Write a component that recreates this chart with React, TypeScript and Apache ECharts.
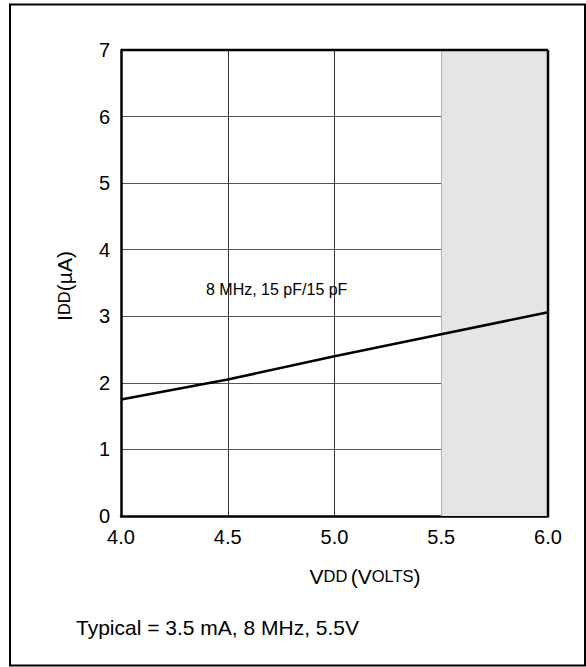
import React, { useEffect, useRef } from "react";
import * as echarts from "echarts";

const vdd = [4.0, 4.5, 5.0, 5.5, 6.0];
const idd = [1.75, 2.05, 2.4, 2.73, 3.06];
const shadeRange = [5.5, 6.0];
const curveLabel = "8 MHz, 15 pF/15 pF";
const footnote = "Typical = 3.5 mA, 8 MHz, 5.5V";

export default function App() {
  const ref = useRef<HTMLDivElement>(null);
  useEffect(() => {
    const chart = echarts.init(ref.current!, null, { renderer: "svg" });
    const font = "'Liberation Sans', Arial, sans-serif";
    chart.setOption({
      animation: false,
      backgroundColor: "#fff",
      textStyle: { fontFamily: font },
      grid: { left: 121, top: 50, right: 38, bottom: 151, containLabel: false },
      xAxis: {
        type: "value",
        min: 4,
        max: 6,
        interval: 0.5,
        axisLine: { show: true, onZero: false, lineStyle: { color: "#000", width: 2.5 } },
        axisTick: { show: false },
        axisLabel: {
          color: "#000",
          fontSize: 20,
          fontFamily: font,
          margin: 11,
          formatter: (v: number) => v.toFixed(1),
        },
        splitLine: { show: true, lineStyle: { color: "#333", width: 1 } },
      },
      yAxis: {
        type: "value",
        min: 0,
        max: 7,
        interval: 1,
        axisLine: { show: true, onZero: false, lineStyle: { color: "#000", width: 2.5 } },
        axisTick: { show: false },
        axisLabel: { color: "#000", fontSize: 20, fontFamily: font, margin: 11 },
        splitLine: { show: true, lineStyle: { color: "#555", width: 1 } },
      },
      series: [
        {
          type: "line",
          data: [],
          z: -1,
          silent: true,
          markArea: {
            silent: true,
            itemStyle: { color: "#e5e5e5" },
            data: [[{ xAxis: shadeRange[0] }, { xAxis: shadeRange[1] }]],
          },
        },
        {
          type: "line",
          data: vdd.map((v, i) => [v, idd[i]]),
          showSymbol: false,
          lineStyle: { color: "#000", width: 2.5 },
          z: 5,
        },
      ],
      graphic: [
        {
          type: "rect",
          shape: { x: 10, y: 4.5, width: 575, height: 661 },
          style: { fill: "none", stroke: "#000", lineWidth: 2 },
          z: 100,
        },
        {
          type: "line",
          shape: { x1: 548, y1: 50, x2: 548, y2: 516 },
          style: { stroke: "#000", lineWidth: 2.5 },
          z: 100,
        },
        {
          type: "line",
          shape: { x1: 121, y1: 50, x2: 548, y2: 50 },
          style: { stroke: "#000", lineWidth: 2.5 },
          z: 100,
        },
        {
          type: "text",
          x: 206,
          y: 289,
          style: {
            text: curveLabel,
            fontSize: 16,
            fontFamily: font,
            fill: "#000",
            textVerticalAlign: "middle",
          },
          z: 100,
        },
        {
          type: "text",
          x: 365,
          y: 576,
          style: {
            text: "{b|V}{s|DD} {b|(V}{s|OLTS}{b|)}",
            fontFamily: font,
            fill: "#000",
            textAlign: "center",
            textVerticalAlign: "middle",
            rich: {
              b: { fontSize: 21, fontFamily: font, fill: "#000" },
              s: { fontSize: 16.5, fontFamily: font, fill: "#000" },
            },
          },
          z: 100,
        },
        {
          type: "text",
          x: 64,
          y: 286,
          rotation: Math.PI / 2,
          style: {
            text: "{b|I}{s|DD}{b|(µA)}",
            fontFamily: font,
            fill: "#000",
            textAlign: "center",
            textVerticalAlign: "middle",
            rich: {
              b: { fontSize: 21, fontFamily: font, fill: "#000" },
              s: { fontSize: 16.5, fontFamily: font, fill: "#000" },
            },
          },
          z: 100,
        },
        {
          type: "text",
          x: 76,
          y: 627,
          style: {
            text: footnote,
            fontSize: 21,
            fontFamily: font,
            fill: "#000",
            textVerticalAlign: "middle",
          },
          z: 100,
        },
      ],
    });
    return () => chart.dispose();
  }, []);
  return <div ref={ref} style={{ width: 586, height: 667, position: "absolute", left: 0, top: 0 }} />;
}
